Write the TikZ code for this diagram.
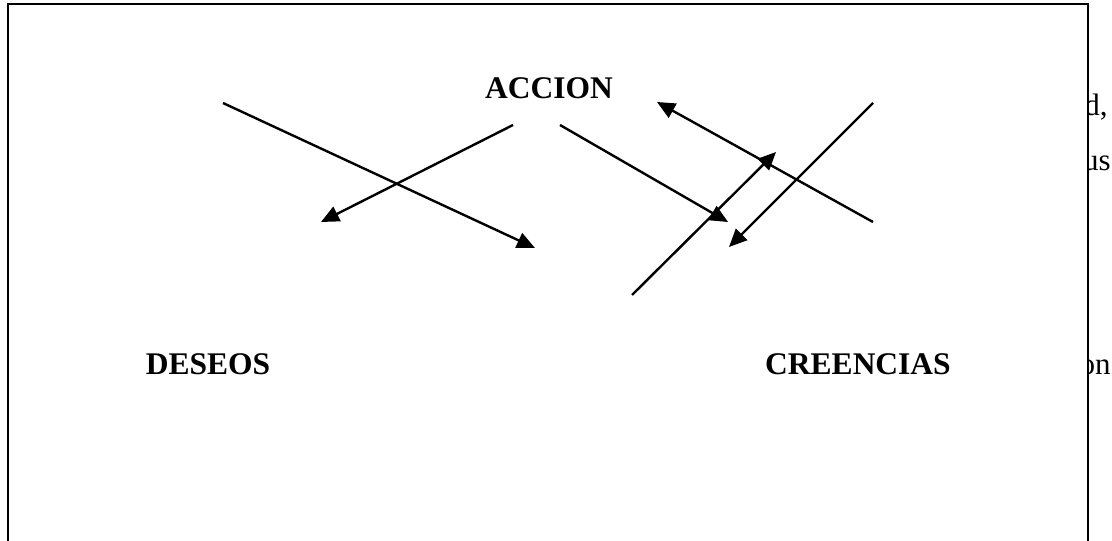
\documentclass[tikz,border=0pt]{standalone}
\usepackage{fontspec}
\setmainfont{Liberation Serif}
\usetikzlibrary{arrows.meta}

\tikzset{
	fleche/.style={line width=1.2pt, -{Triangle[length=9pt,width=8pt]}},
	titre/.style={font=\fontsize{15.75}{18}\selectfont\bfseries, inner sep=0pt},
	texte/.style={font=\fontsize{15.5}{18}\selectfont, inner sep=0pt}
}

\begin{document}
\begin{tikzpicture}[x=0.5pt, y=-0.5pt]
		\useasboundingbox (0, 0) rectangle (1112, 540);
		\clip (0, 0) rectangle (1112, 540);

		% texte derriere le cadre
		\node[texte, anchor=base east] (t1) at (1108, 115) {d,};
		\node[texte, anchor=base east] (t2) at (1111, 170) {us};
		\node[texte, anchor=base east] (t3) at (1111, 374) {on};

		% cadre
		\draw[line width=1.1pt, fill=white] (8, 4) rectangle (1088, 570);

		% etiquettes
		\node[titre] (accion) at (549, 88.5) {ACCION};
		\node[titre] (deseos) at (208, 364) {DESEOS};
		\node[titre] (creencias) at (858, 364) {CREENCIAS};

		% extremites des fleches
		\coordinate (a1) at (223, 103);
		\coordinate (b1) at (535, 248);
		\coordinate (a2) at (513, 125);
		\coordinate (b2) at (321, 222);
		\coordinate (a3) at (560, 125);
		\coordinate (b3) at (728, 222);
		\coordinate (a4) at (873, 222);
		\coordinate (b4) at (657, 102);
		\coordinate (a5) at (873, 103);
		\coordinate (b5) at (729, 247);
		\coordinate (a6) at (632, 295);
		\coordinate (b6) at (776, 152);

		% fleches
		\draw[fleche] (a1) -- (b1);
		\draw[fleche] (a2) -- (b2);
		\draw[fleche] (a3) -- (b3);
		\draw[fleche] (a4) -- (b4);
		\draw[fleche] (a5) -- (b5);
		\draw[fleche] (a6) -- (b6);

\end{tikzpicture}
\end{document}
